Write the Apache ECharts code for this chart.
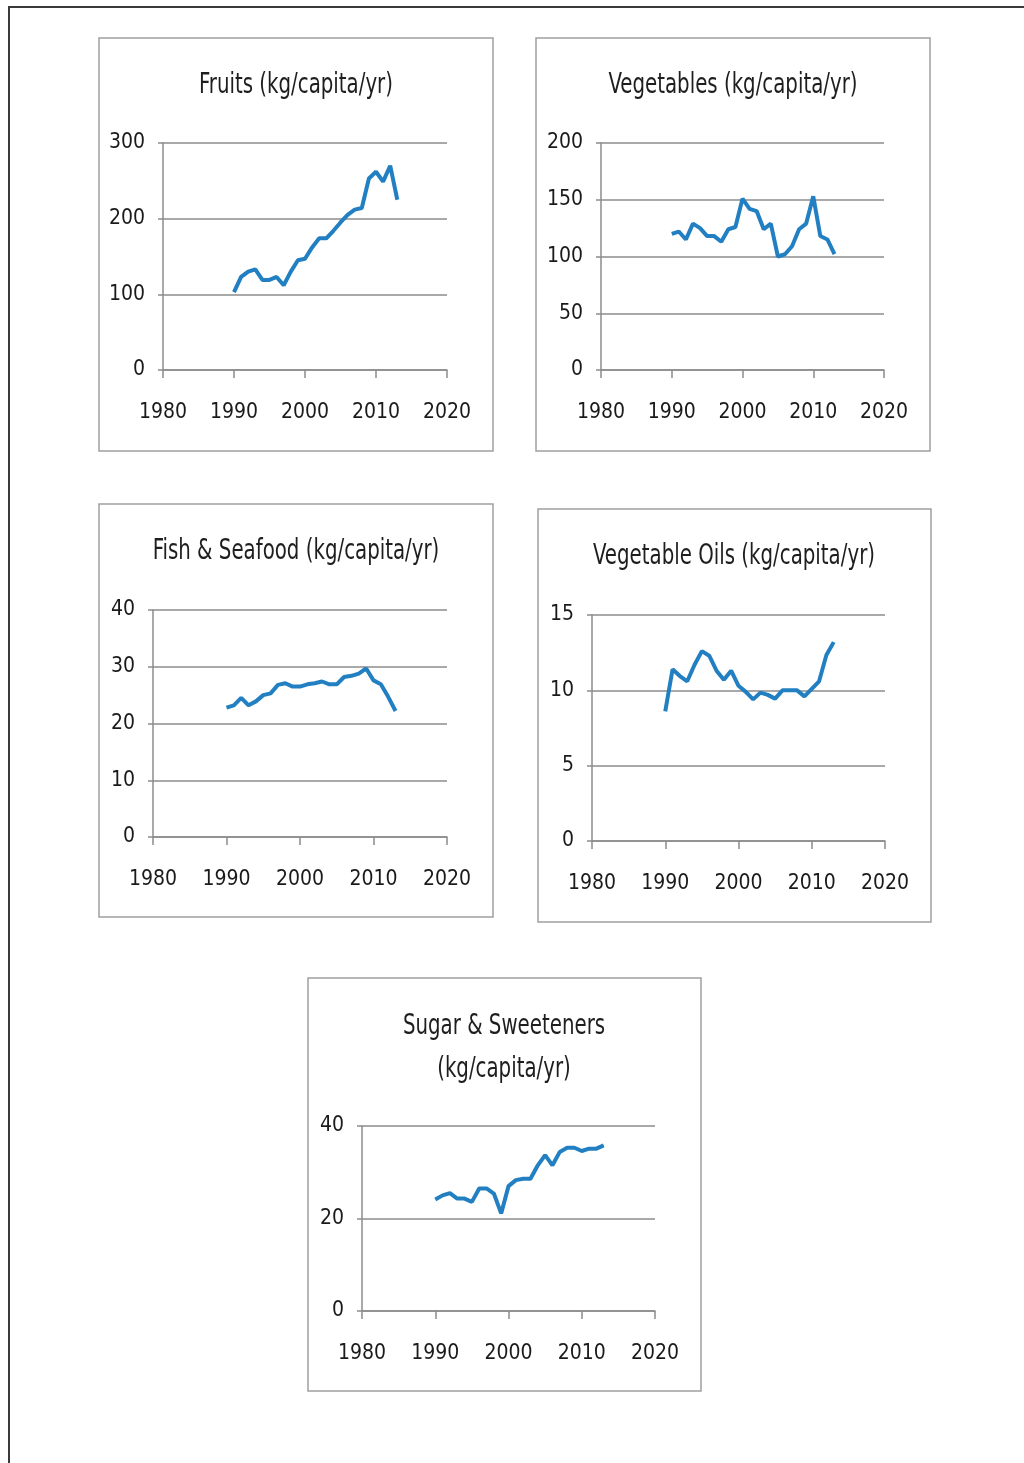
<!DOCTYPE html>
<html><head><meta charset="utf-8">
<script src="https://cdn.jsdelivr.net/npm/echarts@6/dist/echarts.min.js"></script>
<style>html,body{margin:0;padding:0;background:#fff}#c{width:1024px;height:1463px}</style>
</head><body><div id="c"></div>
<script>
const years = [1990,1991,1992,1993,1994,1995,1996,1997,1998,1999,2000,2001,2002,2003,2004,2005,2006,2007,2008,2009,2010,2011,2012,2013];
const fruits = [103,123,130,133,119,119,123,112,130,145,147,162,174,174,184,195,205,212,214,253,262,249,270,225];
const vegetables = [120,122,115,129,125,118,118,113,124,126,151,142,140,124,129,100,102,109,124,129,153,118,115,102];
const fish = [22.8,23.2,24.5,23.2,23.9,25.0,25.3,26.8,27.1,26.5,26.5,26.9,27.1,27.4,26.9,26.9,28.2,28.4,28.8,29.7,27.6,26.9,24.7,22.2];
const oils = [8.6,11.4,10.95,10.6,11.7,12.6,12.3,11.3,10.7,11.3,10.3,9.9,9.4,9.85,9.7,9.45,10.0,10.0,10.0,9.6,10.1,10.6,12.35,13.2];
const sugar = [24.1,25.0,25.5,24.3,24.3,23.6,26.5,26.5,25.4,21.1,27.0,28.3,28.6,28.6,31.5,33.7,31.5,34.4,35.3,35.3,34.6,35.1,35.1,35.8];

const titles = ['Fruits (kg/capita/yr)','Vegetables (kg/capita/yr)','Fish & Seafood (kg/capita/yr)','Vegetable Oils (kg/capita/yr)','Sugar & Sweeteners','(kg/capita/yr)'];
const xTicks = {min:1980, max:2020, interval:10};
const yMax = [300,200,40,15,40];
const yInterval = [100,50,10,5,20];
const seriesData = [fruits, vegetables, fish, oils, sugar];

const FONT = "'Liberation Sans Narrow','Arial Narrow','DejaVu Sans Condensed',sans-serif";
const grey = '#8c8c8c';
const grids = [
  {left:163, top:143, width:284, height:227},
  {left:601, top:143, width:283, height:227},
  {left:153, top:610, width:294, height:227},
  {left:592, top:615, width:293, height:226},
  {left:362, top:1126, width:293, height:185}
];
const boxes = [
  {x:99, y:38, w:394, h:413},
  {x:536, y:38, w:394, h:413},
  {x:99, y:504, w:394, h:413},
  {x:538, y:509, w:393, h:413},
  {x:308, y:978, w:393, h:413}
];
const titlePos = [[296,86],[733,86],[296,552],[734,557],[504,1027],[504,1070]];

const xAxes = grids.map((g,i)=>({
  type:'value', gridIndex:i, min:xTicks.min, max:xTicks.max, interval:xTicks.interval,
  axisLine:{show:true, lineStyle:{color:grey, width:1.5}},
  axisTick:{show:true, length:8, lineStyle:{color:grey, width:1.5}},
  splitLine:{show:false},
  axisLabel:{fontSize:21, color:'#1a1a1a', margin:32, fontFamily:FONT, formatter:v=>String(v)}
}));
const yAxes = grids.map((g,i)=>({
  type:'value', gridIndex:i, min:0, max:yMax[i], interval:yInterval[i],
  axisLine:{show:true, lineStyle:{color:grey, width:1.5}},
  axisTick:{show:true, length:5, lineStyle:{color:grey, width:1.5}},
  splitLine:{show:true, lineStyle:{color:grey, width:1.5}},
  axisLabel:{fontSize:21, color:'#1a1a1a', margin:18, fontFamily:FONT, formatter:v=>String(v)}
}));
const series = seriesData.map((d,i)=>({
  type:'line', xAxisIndex:i, yAxisIndex:i, showSymbol:false, smooth:false,
  lineStyle:{color:'#2280c2', width:4}, itemStyle:{color:'#2280c2'},
  data: years.map((y,k)=>[y, d[k]])
}));

const graphic = [];
graphic.push({type:'line', shape:{x1:8,y1:7,x2:1024,y2:7}, style:{stroke:'#3a3a3a', lineWidth:2}});
graphic.push({type:'line', shape:{x1:9,y1:6,x2:9,y2:1463}, style:{stroke:'#3a3a3a', lineWidth:2}});
boxes.forEach(b=>graphic.push({type:'rect', shape:{x:b.x,y:b.y,width:b.w,height:b.h}, style:{fill:null, stroke:'#a0a0a0', lineWidth:1.5}}));
titles.forEach((t,i)=>graphic.push({type:'text', x:titlePos[i][0], y:titlePos[i][1], scaleY:1.3,
  style:{text:t, textAlign:'center', textVerticalAlign:'middle', font:'22px '+FONT, fill:'#1e1e1e'}}));

const chart = echarts.init(document.getElementById('c'), null, {renderer:'canvas'});
chart.setOption({
  backgroundColor:'#fff', animation:false,
  grid: grids, xAxis:xAxes, yAxis:yAxes, series:series, graphic:graphic
});
</script></body></html>
